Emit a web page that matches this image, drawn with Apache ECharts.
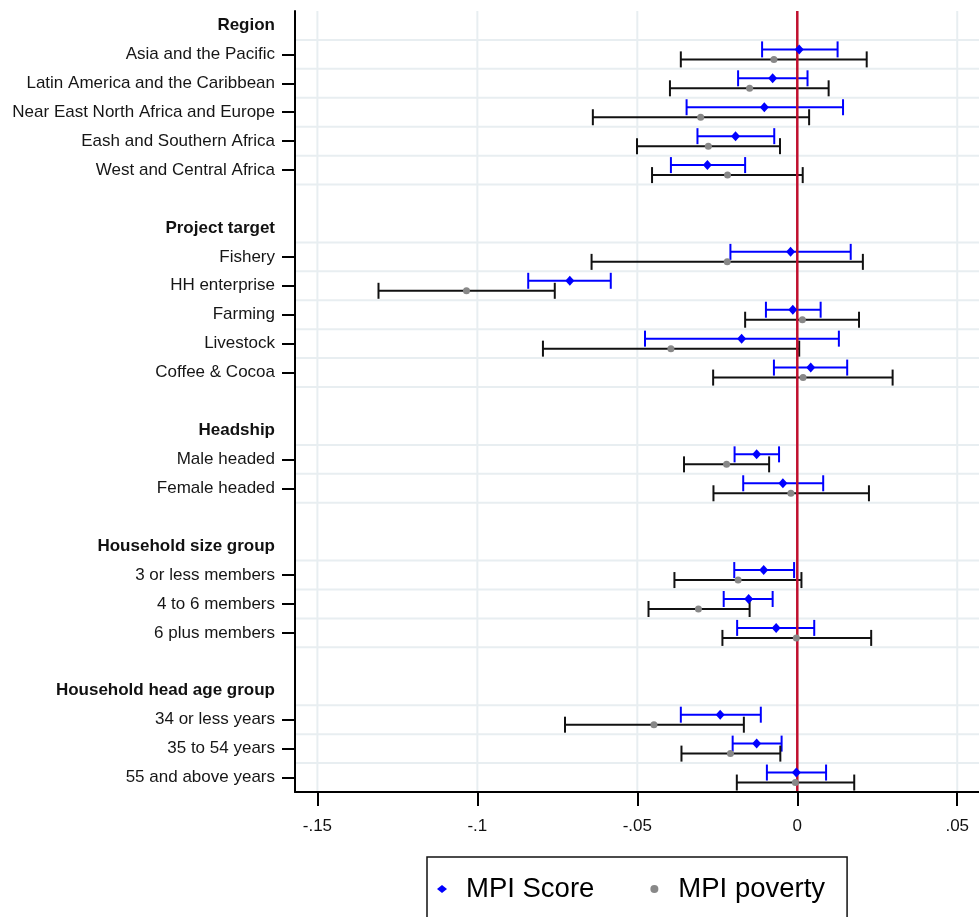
<!DOCTYPE html>
<html><head><meta charset="utf-8">
<script src="https://cdn.jsdelivr.net/npm/echarts@6/dist/echarts.min.js"></script>
<style>html,body{margin:0;padding:0;background:#fff}#c{width:979px;height:917px}</style>
</head><body><div id="c"></div>
<script>
// ---------- data ----------
const groupTitles = ['Region', 'Project target', 'Headship', 'Household size group', 'Household head age group'];
const regionItems = ['Asia and the Pacific', 'Latin America and the Caribbean', 'Near East North Africa and Europe', 'Eash and Southern Africa', 'West and Central Africa'];
const targetItems = ['Fishery', 'HH enterprise', 'Farming', 'Livestock', 'Coffee & Cocoa'];
const headshipItems = ['Male headed', 'Female headed'];
const hhSizeItems = ['3 or less members', '4 to 6 members', '6 plus members'];
const ageItems = ['34 or less years', '35 to 54 years', '55 and above years'];

// MPI Score (blue): point estimate and CI bounds, in item order
const scorePoint = [0.0006, -0.0077, -0.0103, -0.0193, -0.0281, -0.0021, -0.0711, -0.0014, -0.0174, 0.0042, -0.0127, -0.0045, -0.0105, -0.0152, -0.0066, -0.0241, -0.0127, -0.0003];
const scoreLow   = [-0.0110, -0.0185, -0.0346, -0.0312, -0.0395, -0.0209, -0.0841, -0.0098, -0.0476, -0.0073, -0.0196, -0.0169, -0.0197, -0.0230, -0.0188, -0.0364, -0.0202, -0.0095];
const scoreHigh  = [0.0126, 0.0032, 0.0143, -0.0072, -0.0163, 0.0167, -0.0583, 0.0073, 0.0130, 0.0156, -0.0057, 0.0081, -0.0010, -0.0077, 0.0053, -0.0114, -0.0049, 0.0090];

// MPI poverty (gray)
const povPoint = [-0.0073, -0.0149, -0.0302, -0.0278, -0.0218, -0.0219, -0.1034, 0.0016, -0.0395, 0.0018, -0.0221, -0.0020, -0.0185, -0.0309, -0.0003, -0.0448, -0.0209, -0.0006];
const povLow   = [-0.0364, -0.0398, -0.0639, -0.0501, -0.0454, -0.0643, -0.1309, -0.0163, -0.0795, -0.0263, -0.0354, -0.0262, -0.0384, -0.0465, -0.0234, -0.0726, -0.0362, -0.0189];
const povHigh  = [0.0217, 0.0098, 0.0037, -0.0054, 0.0017, 0.0205, -0.0758, 0.0193, 0.0006, 0.0298, -0.0088, 0.0224, 0.0013, -0.0149, 0.0231, -0.0167, -0.0053, 0.0178];

const xTicks = [-0.15, -0.1, -0.05, 0, 0.05];
const xTickLabels = ['-.15', '-.1', '-.05', '0', '.05'];
const xMin = -0.157, xMax = 0.0568;
const refValue = 0;

// ---------- build rows ----------
const itemGroups = [regionItems, targetItems, headshipItems, hhSizeItems, ageItems];
const rows = [], rowTypes = [], itemRows = [];
itemGroups.forEach((items, g) => {
  if (g > 0) { rows.push(''); rowTypes.push('blank'); }
  rows.push(groupTitles[g]); rowTypes.push('header');
  items.forEach(it => { itemRows.push(rows.length); rows.push(it); rowTypes.push('item'); });
});
const hLineRows = [];
rowTypes.forEach((t, i) => { if (i > 0 && t !== 'header') hLineRows.push(i); });

const FONT = '"Liberation Sans", Arial, Helvetica, sans-serif';
const GRID_COLOR = '#e8eef1';

function ciSeries(lows, highs, color, offset) {
  return {
    type: 'custom', silent: true, z: 2,
    encode: { x: [0, 1], y: 2 },
    data: itemRows.map((r, i) => [lows[i], highs[i], r]),
    renderItem: (params, api) => {
      const r = api.value(2);
      const a = api.coord([api.value(0), r]);
      const b = api.coord([api.value(1), r]);
      const y = a[1] + offset;
      const style = { stroke: color, lineWidth: 2 };
      return { type: 'group', children: [
        { type: 'line', shape: { x1: a[0], y1: y, x2: b[0], y2: y }, style },
        { type: 'line', shape: { x1: a[0], y1: y - 8, x2: a[0], y2: y + 8 }, style },
        { type: 'line', shape: { x1: b[0], y1: y - 8, x2: b[0], y2: y + 8 }, style }
      ]};
    }
  };
}

const chart = echarts.init(document.getElementById('c'), null, { renderer: 'canvas' });
chart.setOption({
  animation: false,
  backgroundColor: '#fff',
  grid: { left: 295, right: 0, top: 11, bottom: 125, containLabel: false },
  legend: {
    left: 427, top: 857, orient: 'horizontal',
    data: [{ name: 'MPI Score', icon: 'diamond' }, { name: 'MPI poverty', icon: 'circle' }],
    itemWidth: 10, itemHeight: 8, itemGap: 56,
    padding: [18, 22, 40, 10],
    borderColor: '#111', borderWidth: 1.5,
    textStyle: { fontSize: 27.5, color: '#000', fontFamily: FONT, padding: [0, 0, 0, 14] }
  },
  xAxis: {
    type: 'value', min: xMin, max: xMax, z: 10,
    axisLine: { show: true, onZero: false, lineStyle: { color: '#000', width: 2 } },
    axisTick: { show: true, length: 14, customValues: xTicks, lineStyle: { color: '#000', width: 2 } },
    axisLabel: {
      show: true, margin: 26, fontSize: 17, color: '#111', fontFamily: FONT, customValues: xTicks,
      formatter: v => { const i = xTicks.findIndex(t => Math.abs(t - v) < 1e-9); return i >= 0 ? xTickLabels[i] : ''; }
    },
    splitLine: { show: false }
  },
  yAxis: {
    type: 'category', data: rows, inverse: true, boundaryGap: true, z: 10,
    axisLine: { show: true, onZero: false, lineStyle: { color: '#000', width: 2 } },
    axisTick: { show: true, alignWithLabel: true, length: 13, interval: (i) => rowTypes[i] === 'item', lineStyle: { color: '#000', width: 2 } },
    axisLabel: {
      interval: 0, margin: 20, fontSize: 17, color: '#161616', fontFamily: FONT,
      formatter: (v, i) => rowTypes[i] === 'header' ? '{b|' + v + '}' : v,
      rich: { b: { fontWeight: 'bold', fontSize: 17, color: '#111', fontFamily: FONT } }
    },
    splitLine: { show: false }
  },
  series: [
    { // horizontal gridlines
      type: 'custom', silent: true, z: 1,
      data: hLineRows.map(r => [xMin, r]),
      encode: { x: 0, y: 1 },
      renderItem: (params, api) => {
        const c = api.coord([api.value(0), api.value(1)]);
        const band = api.size([0, 1])[1];
        const y = c[1] - band / 2;
        const cs = params.coordSys;
        return { type: 'line', shape: { x1: cs.x, y1: y, x2: cs.x + cs.width, y2: y }, style: { stroke: GRID_COLOR, lineWidth: 2 } };
      }
    },
    { // vertical gridlines
      type: 'custom', silent: true, z: 1,
      data: xTicks.map(v => [v, 0]),
      encode: { x: 0, y: 1 },
      renderItem: (params, api) => {
        const x = api.coord([api.value(0), 0])[0];
        const cs = params.coordSys;
        return { type: 'line', shape: { x1: x, y1: cs.y, x2: x, y2: cs.y + cs.height }, style: { stroke: GRID_COLOR, lineWidth: 2 } };
      }
    },
    ciSeries(scoreLow, scoreHigh, '#0000ff', -5),
    ciSeries(povLow, povHigh, '#111111', 5),
    { // reference line at zero
      type: 'custom', silent: true, z: 3,
      data: [[refValue, 0]],
      encode: { x: 0, y: 1 },
      renderItem: (params, api) => {
        const x = api.coord([api.value(0), 0])[0];
        const cs = params.coordSys;
        return { type: 'line', shape: { x1: x, y1: cs.y, x2: x, y2: cs.y + cs.height }, style: { stroke: '#c0102f', lineWidth: 2.5 } };
      }
    },
    {
      name: 'MPI Score', type: 'scatter', z: 5, symbol: 'diamond', symbolSize: [9, 10], symbolOffset: [0, -5],
      itemStyle: { color: '#0000ff', opacity: 1 },
      data: itemRows.map((r, i) => [scorePoint[i], r])
    },
    {
      name: 'MPI poverty', type: 'scatter', z: 5, symbol: 'circle', symbolSize: 7, symbolOffset: [0, 5],
      itemStyle: { color: '#888888', opacity: 1 },
      data: itemRows.map((r, i) => [povPoint[i], r])
    }
  ]
});
</script>
</body></html>
